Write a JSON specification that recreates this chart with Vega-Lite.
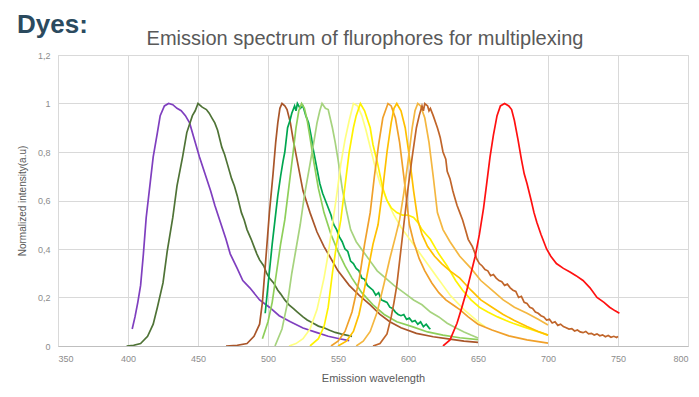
{
  "$schema": "https://vega.github.io/schema/vega-lite/v6.json",
  "background": "white",
  "padding": {"left": 16, "top": 11, "right": 5, "bottom": 5},
  "title": {"text": "Dyes:", "anchor": "start", "frame": "bounds", "fontSize": 26, "fontWeight": "bold", "font": "Liberation Sans", "color": "#2B4A5E", "offset": -9},
  "config": {
    "view": {"stroke": "#d9d9d9"},
    "axis": {"labelFont": "Liberation Sans", "titleFont": "Liberation Sans", "labelColor": "#8c8c8c", "titleColor": "#595959", "titleFontWeight": "normal", "gridColor": "#d9d9d9", "ticks": false, "labelFontSize": 9, "titleFontSize": 10}
  },
  "vconcat": [
    {
      "width": 630,
      "height": 291,
      "title": {"text": "Emission spectrum of flurophores for multiplexing", "font": "Liberation Sans", "fontSize": 20, "fontWeight": "normal", "color": "#595959", "anchor": "middle", "dx": -8, "offset": 2},
      "data": {"values": [
        {"s":"P","x":403,"y":0.07},{"s":"P","x":405,"y":0.12},{"s":"P","x":407,"y":0.18},{"s":"P","x":409,"y":0.25},{"s":"P","x":411,"y":0.38},{"s":"P","x":413,"y":0.53},{"s":"P","x":416,"y":0.68},{"s":"P","x":418,"y":0.78},{"s":"P","x":421,"y":0.88},{"s":"P","x":423,"y":0.95},{"s":"P","x":426,"y":0.99},{"s":"P","x":429,"y":1.0},{"s":"P","x":432,"y":0.995},{"s":"P","x":435,"y":0.98},{"s":"P","x":438,"y":0.97},{"s":"P","x":441,"y":0.95},{"s":"P","x":444,"y":0.92},{"s":"P","x":447,"y":0.86},{"s":"P","x":451,"y":0.78},{"s":"P","x":455,"y":0.71},{"s":"P","x":459,"y":0.64},{"s":"P","x":462,"y":0.58},{"s":"P","x":466,"y":0.51},{"s":"P","x":470,"y":0.44},{"s":"P","x":473,"y":0.38},{"s":"P","x":478,"y":0.32},{"s":"P","x":482,"y":0.27},{"s":"P","x":487,"y":0.24},{"s":"P","x":494,"y":0.19},{"s":"P","x":501,"y":0.16},{"s":"P","x":508,"y":0.125},{"s":"P","x":516,"y":0.1},{"s":"P","x":525,"y":0.074},{"s":"P","x":535,"y":0.055},{"s":"P","x":543,"y":0.04},{"s":"P","x":551,"y":0.03},{"s":"P","x":558,"y":0.022},
        {"s":"DG","x":399,"y":0.0},{"s":"DG","x":404,"y":0.003},{"s":"DG","x":409,"y":0.01},{"s":"DG","x":414,"y":0.04},{"s":"DG","x":418,"y":0.09},{"s":"DG","x":421,"y":0.16},{"s":"DG","x":425,"y":0.26},{"s":"DG","x":428,"y":0.39},{"s":"DG","x":432,"y":0.53},{"s":"DG","x":435,"y":0.66},{"s":"DG","x":439,"y":0.78},{"s":"DG","x":442,"y":0.88},{"s":"DG","x":446,"y":0.95},{"s":"DG","x":448,"y":0.97},{"s":"DG","x":450,"y":1.0},{"s":"DG","x":453,"y":0.985},{"s":"DG","x":456,"y":0.975},{"s":"DG","x":458,"y":0.96},{"s":"DG","x":460,"y":0.94},{"s":"DG","x":462,"y":0.92},{"s":"DG","x":464,"y":0.89},{"s":"DG","x":467,"y":0.82},{"s":"DG","x":469,"y":0.79},{"s":"DG","x":471,"y":0.75},{"s":"DG","x":474,"y":0.69},{"s":"DG","x":476,"y":0.66},{"s":"DG","x":478,"y":0.62},{"s":"DG","x":481,"y":0.55},{"s":"DG","x":483,"y":0.52},{"s":"DG","x":485,"y":0.48},{"s":"DG","x":488,"y":0.44},{"s":"DG","x":490,"y":0.41},{"s":"DG","x":492,"y":0.38},{"s":"DG","x":494,"y":0.355},{"s":"DG","x":497,"y":0.33},{"s":"DG","x":499,"y":0.3},{"s":"DG","x":501,"y":0.28},{"s":"DG","x":504,"y":0.26},{"s":"DG","x":507,"y":0.23},{"s":"DG","x":509,"y":0.215},{"s":"DG","x":512,"y":0.19},{"s":"DG","x":515,"y":0.17},{"s":"DG","x":518,"y":0.155},{"s":"DG","x":521,"y":0.14},{"s":"DG","x":525,"y":0.12},{"s":"DG","x":528,"y":0.107},{"s":"DG","x":532,"y":0.095},{"s":"DG","x":536,"y":0.082},{"s":"DG","x":540,"y":0.075},{"s":"DG","x":544,"y":0.065},{"s":"DG","x":548,"y":0.056},{"s":"DG","x":552,"y":0.05},{"s":"DG","x":556,"y":0.045},{"s":"DG","x":560,"y":0.04},
        {"s":"B1","x":470,"y":0},{"s":"B1","x":478,"y":0.003},{"s":"B1","x":485,"y":0.01},{"s":"B1","x":490,"y":0.04},{"s":"B1","x":494,"y":0.09},{"s":"B1","x":496,"y":0.18},{"s":"B1","x":498.6,"y":0.37},{"s":"B1","x":501,"y":0.55},{"s":"B1","x":503.6,"y":0.71},{"s":"B1","x":505.5,"y":0.84},{"s":"B1","x":507,"y":0.92},{"s":"B1","x":508.5,"y":0.98},{"s":"B1","x":510,"y":1.0},{"s":"B1","x":512,"y":0.99},{"s":"B1","x":513.6,"y":0.975},{"s":"B1","x":516,"y":0.92},{"s":"B1","x":518,"y":0.85},{"s":"B1","x":521,"y":0.76},{"s":"B1","x":525,"y":0.64},{"s":"B1","x":530,"y":0.55},{"s":"B1","x":535,"y":0.47},{"s":"B1","x":540,"y":0.41},{"s":"B1","x":544,"y":0.37},{"s":"B1","x":550,"y":0.31},{"s":"B1","x":558,"y":0.25},{"s":"B1","x":565,"y":0.21},{"s":"B1","x":573,"y":0.17},{"s":"B1","x":580,"y":0.13},{"s":"B1","x":587,"y":0.1},{"s":"B1","x":595,"y":0.075},{"s":"B1","x":606,"y":0.052},{"s":"B1","x":618,"y":0.038},{"s":"B1","x":630,"y":0.028},{"s":"B1","x":640,"y":0.02},{"s":"B1","x":650,"y":0.015},
        {"s":"G","x":498,"y":0.135},{"s":"G","x":500,"y":0.25},{"s":"G","x":503,"y":0.42},{"s":"G","x":505,"y":0.52},{"s":"G","x":507,"y":0.62},{"s":"G","x":509,"y":0.7},{"s":"G","x":510.7,"y":0.76},{"s":"G","x":512,"y":0.8},{"s":"G","x":514,"y":0.9},{"s":"G","x":515.7,"y":0.93},{"s":"G","x":517,"y":0.96},{"s":"G","x":519,"y":0.99},{"s":"G","x":520,"y":0.97},{"s":"G","x":521,"y":1.0},{"s":"G","x":523,"y":0.98},{"s":"G","x":525,"y":0.99},{"s":"G","x":527,"y":0.95},{"s":"G","x":529,"y":0.92},{"s":"G","x":531,"y":0.86},{"s":"G","x":532,"y":0.82},{"s":"G","x":534,"y":0.76},{"s":"G","x":536,"y":0.7},{"s":"G","x":537,"y":0.67},{"s":"G","x":539,"y":0.63},{"s":"G","x":541,"y":0.6},{"s":"G","x":543,"y":0.57},{"s":"G","x":545,"y":0.54},{"s":"G","x":547,"y":0.5},{"s":"G","x":549,"y":0.48},{"s":"G","x":551,"y":0.45},{"s":"G","x":553,"y":0.43},{"s":"G","x":555,"y":0.4},{"s":"G","x":557,"y":0.39},{"s":"G","x":559,"y":0.35},{"s":"G","x":561,"y":0.34},{"s":"G","x":563,"y":0.32},{"s":"G","x":565,"y":0.31},{"s":"G","x":567,"y":0.28},{"s":"G","x":569,"y":0.275},{"s":"G","x":571,"y":0.25},{"s":"G","x":573,"y":0.24},{"s":"G","x":575,"y":0.23},{"s":"G","x":577,"y":0.21},{"s":"G","x":579,"y":0.22},{"s":"G","x":581,"y":0.19},{"s":"G","x":583,"y":0.185},{"s":"G","x":585,"y":0.18},{"s":"G","x":587,"y":0.16},{"s":"G","x":589,"y":0.155},{"s":"G","x":591,"y":0.14},{"s":"G","x":593,"y":0.13},{"s":"G","x":595,"y":0.125},{"s":"G","x":597,"y":0.13},{"s":"G","x":599,"y":0.11},{"s":"G","x":601,"y":0.115},{"s":"G","x":603,"y":0.1},{"s":"G","x":605,"y":0.105},{"s":"G","x":607,"y":0.09},{"s":"G","x":609,"y":0.1},{"s":"G","x":611,"y":0.08},{"s":"G","x":613,"y":0.09},{"s":"G","x":615,"y":0.075},{"s":"G","x":616,"y":0.07},
        {"s":"LG1","x":496,"y":0.03},{"s":"LG1","x":500,"y":0.1},{"s":"LG1","x":503,"y":0.18},{"s":"LG1","x":506,"y":0.3},{"s":"LG1","x":509,"y":0.42},{"s":"LG1","x":512,"y":0.52},{"s":"LG1","x":515,"y":0.66},{"s":"LG1","x":518,"y":0.8},{"s":"LG1","x":520,"y":0.9},{"s":"LG1","x":522,"y":0.97},{"s":"LG1","x":524,"y":1.0},{"s":"LG1","x":526,"y":0.98},{"s":"LG1","x":528,"y":0.93},{"s":"LG1","x":530,"y":0.86},{"s":"LG1","x":533,"y":0.75},{"s":"LG1","x":536,"y":0.65},{"s":"LG1","x":540,"y":0.55},{"s":"LG1","x":545,"y":0.46},{"s":"LG1","x":550,"y":0.39},{"s":"LG1","x":555,"y":0.33},{"s":"LG1","x":560,"y":0.28},{"s":"LG1","x":567,"y":0.22},{"s":"LG1","x":575,"y":0.17},{"s":"LG1","x":583,"y":0.13},{"s":"LG1","x":592,"y":0.1},{"s":"LG1","x":603,"y":0.08},{"s":"LG1","x":614,"y":0.058},{"s":"LG1","x":625,"y":0.045},{"s":"LG1","x":637,"y":0.034},{"s":"LG1","x":650,"y":0.026},
        {"s":"LG2","x":505,"y":0},{"s":"LG2","x":510,"y":0.07},{"s":"LG2","x":514,"y":0.18},{"s":"LG2","x":517,"y":0.3},{"s":"LG2","x":520,"y":0.4},{"s":"LG2","x":523,"y":0.5},{"s":"LG2","x":526,"y":0.62},{"s":"LG2","x":530,"y":0.75},{"s":"LG2","x":533,"y":0.85},{"s":"LG2","x":535,"y":0.92},{"s":"LG2","x":537,"y":0.97},{"s":"LG2","x":538.6,"y":1.0},{"s":"LG2","x":541,"y":0.98},{"s":"LG2","x":543,"y":0.975},{"s":"LG2","x":546,"y":0.9},{"s":"LG2","x":548,"y":0.84},{"s":"LG2","x":550,"y":0.77},{"s":"LG2","x":553,"y":0.65},{"s":"LG2","x":556,"y":0.56},{"s":"LG2","x":559,"y":0.48},{"s":"LG2","x":563,"y":0.43},{"s":"LG2","x":568,"y":0.39},{"s":"LG2","x":573,"y":0.35},{"s":"LG2","x":578,"y":0.31},{"s":"LG2","x":584,"y":0.28},{"s":"LG2","x":590,"y":0.25},{"s":"LG2","x":597,"y":0.22},{"s":"LG2","x":604,"y":0.19},{"s":"LG2","x":610,"y":0.17},{"s":"LG2","x":616,"y":0.14},{"s":"LG2","x":622,"y":0.12},{"s":"LG2","x":628,"y":0.094},{"s":"LG2","x":634,"y":0.075},{"s":"LG2","x":640,"y":0.058},{"s":"LG2","x":645,"y":0.045},{"s":"LG2","x":650,"y":0.033},
        {"s":"PY","x":515,"y":0},{"s":"PY","x":520,"y":0.01},{"s":"PY","x":525,"y":0.03},{"s":"PY","x":530,"y":0.07},{"s":"PY","x":535,"y":0.15},{"s":"PY","x":540,"y":0.28},{"s":"PY","x":543,"y":0.38},{"s":"PY","x":546,"y":0.5},{"s":"PY","x":549,"y":0.62},{"s":"PY","x":552,"y":0.75},{"s":"PY","x":555,"y":0.85},{"s":"PY","x":558,"y":0.93},{"s":"PY","x":561,"y":1.0},{"s":"PY","x":564,"y":0.99},{"s":"PY","x":567,"y":0.95},{"s":"PY","x":570,"y":0.89},{"s":"PY","x":573,"y":0.82},{"s":"PY","x":576,"y":0.75},{"s":"PY","x":580,"y":0.67},{"s":"PY","x":585,"y":0.6},{"s":"PY","x":590,"y":0.54},{"s":"PY","x":595,"y":0.49},{"s":"PY","x":600,"y":0.45},{"s":"PY","x":605,"y":0.41},{"s":"PY","x":610,"y":0.37},{"s":"PY","x":615,"y":0.33},{"s":"PY","x":620,"y":0.29},{"s":"PY","x":625,"y":0.25},{"s":"PY","x":630,"y":0.21},{"s":"PY","x":635,"y":0.18},{"s":"PY","x":640,"y":0.15},{"s":"PY","x":645,"y":0.125},{"s":"PY","x":650,"y":0.1},{"s":"PY","x":655,"y":0.08},
        {"s":"Y","x":530,"y":0},{"s":"Y","x":536,"y":0.03},{"s":"Y","x":540,"y":0.08},{"s":"Y","x":543,"y":0.16},{"s":"Y","x":546,"y":0.3},{"s":"Y","x":549,"y":0.42},{"s":"Y","x":552,"y":0.52},{"s":"Y","x":555,"y":0.66},{"s":"Y","x":558,"y":0.8},{"s":"Y","x":561,"y":0.9},{"s":"Y","x":563,"y":0.95},{"s":"Y","x":566,"y":1.0},{"s":"Y","x":569,"y":0.97},{"s":"Y","x":573,"y":0.9},{"s":"Y","x":575,"y":0.83},{"s":"Y","x":578,"y":0.76},{"s":"Y","x":582,"y":0.65},{"s":"Y","x":585,"y":0.6},{"s":"Y","x":588,"y":0.57},{"s":"Y","x":592,"y":0.55},{"s":"Y","x":596,"y":0.54},{"s":"Y","x":600,"y":0.54},{"s":"Y","x":604,"y":0.53},{"s":"Y","x":607,"y":0.51},{"s":"Y","x":610,"y":0.48},{"s":"Y","x":613,"y":0.46},{"s":"Y","x":616,"y":0.44},{"s":"Y","x":622,"y":0.38},{"s":"Y","x":628,"y":0.33},{"s":"Y","x":634,"y":0.27},{"s":"Y","x":639,"y":0.23},{"s":"Y","x":645,"y":0.19},{"s":"Y","x":651,"y":0.16},{"s":"Y","x":657,"y":0.14},{"s":"Y","x":664,"y":0.12},{"s":"Y","x":670,"y":0.105},{"s":"Y","x":675,"y":0.094},{"s":"Y","x":682,"y":0.08},{"s":"Y","x":689,"y":0.066},{"s":"Y","x":695,"y":0.055},{"s":"Y","x":700,"y":0.045},
        {"s":"O1","x":545,"y":0},{"s":"O1","x":550,"y":0.02},{"s":"O1","x":555,"y":0.06},{"s":"O1","x":560,"y":0.14},{"s":"O1","x":565,"y":0.27},{"s":"O1","x":569,"y":0.42},{"s":"O1","x":573,"y":0.55},{"s":"O1","x":576,"y":0.7},{"s":"O1","x":579,"y":0.83},{"s":"O1","x":582,"y":0.94},{"s":"O1","x":585.7,"y":1.0},{"s":"O1","x":588,"y":0.99},{"s":"O1","x":591,"y":0.94},{"s":"O1","x":594,"y":0.84},{"s":"O1","x":597,"y":0.7},{"s":"O1","x":599,"y":0.6},{"s":"O1","x":601,"y":0.5},{"s":"O1","x":604,"y":0.43},{"s":"O1","x":608,"y":0.36},{"s":"O1","x":612,"y":0.31},{"s":"O1","x":617,"y":0.26},{"s":"O1","x":622,"y":0.22},{"s":"O1","x":627,"y":0.19},{"s":"O1","x":632,"y":0.17},{"s":"O1","x":637,"y":0.15},{"s":"O1","x":643,"y":0.12},{"s":"O1","x":650,"y":0.09},{"s":"O1","x":660,"y":0.066},{"s":"O1","x":672,"y":0.042},{"s":"O1","x":685,"y":0.025},{"s":"O1","x":700,"y":0.012},
        {"s":"O2","x":550,"y":0},{"s":"O2","x":556,"y":0.02},{"s":"O2","x":561,"y":0.06},{"s":"O2","x":565,"y":0.13},{"s":"O2","x":569,"y":0.24},{"s":"O2","x":572,"y":0.33},{"s":"O2","x":575,"y":0.42},{"s":"O2","x":578.6,"y":0.5},{"s":"O2","x":582,"y":0.65},{"s":"O2","x":585,"y":0.8},{"s":"O2","x":588,"y":0.92},{"s":"O2","x":590,"y":0.98},{"s":"O2","x":592,"y":1.0},{"s":"O2","x":595,"y":0.97},{"s":"O2","x":598,"y":0.9},{"s":"O2","x":601,"y":0.78},{"s":"O2","x":604,"y":0.64},{"s":"O2","x":607,"y":0.52},{"s":"O2","x":610,"y":0.46},{"s":"O2","x":614,"y":0.41},{"s":"O2","x":619,"y":0.37},{"s":"O2","x":624,"y":0.34},{"s":"O2","x":630,"y":0.31},{"s":"O2","x":637,"y":0.28},{"s":"O2","x":645,"y":0.23},{"s":"O2","x":652,"y":0.19},{"s":"O2","x":660,"y":0.16},{"s":"O2","x":668,"y":0.13},{"s":"O2","x":676,"y":0.105},{"s":"O2","x":685,"y":0.08},{"s":"O2","x":693,"y":0.06},{"s":"O2","x":700,"y":0.045},
        {"s":"O3","x":563,"y":0},{"s":"O3","x":568,"y":0.02},{"s":"O3","x":573,"y":0.06},{"s":"O3","x":578,"y":0.14},{"s":"O3","x":583,"y":0.26},{"s":"O3","x":587,"y":0.36},{"s":"O3","x":591,"y":0.45},{"s":"O3","x":594,"y":0.52},{"s":"O3","x":597,"y":0.63},{"s":"O3","x":600,"y":0.76},{"s":"O3","x":603,"y":0.9},{"s":"O3","x":605,"y":0.97},{"s":"O3","x":607,"y":1.0},{"s":"O3","x":609,"y":0.99},{"s":"O3","x":612,"y":0.94},{"s":"O3","x":615,"y":0.84},{"s":"O3","x":618,"y":0.7},{"s":"O3","x":621,"y":0.55},{"s":"O3","x":625,"y":0.48},{"s":"O3","x":630,"y":0.43},{"s":"O3","x":637,"y":0.37},{"s":"O3","x":645,"y":0.32},{"s":"O3","x":652,"y":0.27},{"s":"O3","x":660,"y":0.23},{"s":"O3","x":668,"y":0.19},{"s":"O3","x":676,"y":0.16},{"s":"O3","x":685,"y":0.135},{"s":"O3","x":693,"y":0.11},{"s":"O3","x":700,"y":0.087},
        {"s":"B2","x":575,"y":0},{"s":"B2","x":580,"y":0.01},{"s":"B2","x":585,"y":0.05},{"s":"B2","x":588,"y":0.12},{"s":"B2","x":590,"y":0.18},{"s":"B2","x":592,"y":0.25},{"s":"B2","x":595,"y":0.4},{"s":"B2","x":597,"y":0.5},{"s":"B2","x":600,"y":0.65},{"s":"B2","x":603,"y":0.78},{"s":"B2","x":606,"y":0.9},{"s":"B2","x":608,"y":0.95},{"s":"B2","x":610,"y":0.99},{"s":"B2","x":611,"y":0.97},{"s":"B2","x":612,"y":1.0},{"s":"B2","x":614,"y":0.99},{"s":"B2","x":615,"y":0.97},{"s":"B2","x":616,"y":0.98},{"s":"B2","x":618,"y":0.95},{"s":"B2","x":621,"y":0.9},{"s":"B2","x":622,"y":0.88},{"s":"B2","x":623,"y":0.86},{"s":"B2","x":625,"y":0.8},{"s":"B2","x":627,"y":0.77},{"s":"B2","x":628,"y":0.72},{"s":"B2","x":630,"y":0.69},{"s":"B2","x":632,"y":0.64},{"s":"B2","x":633,"y":0.62},{"s":"B2","x":635,"y":0.58},{"s":"B2","x":637,"y":0.55},{"s":"B2","x":639,"y":0.52},{"s":"B2","x":641,"y":0.48},{"s":"B2","x":643,"y":0.44},{"s":"B2","x":646,"y":0.41},{"s":"B2","x":648,"y":0.38},{"s":"B2","x":649,"y":0.36},{"s":"B2","x":651,"y":0.34},{"s":"B2","x":653,"y":0.33},{"s":"B2","x":655,"y":0.315},{"s":"B2","x":657,"y":0.31},{"s":"B2","x":659,"y":0.29},{"s":"B2","x":661,"y":0.295},{"s":"B2","x":663,"y":0.28},{"s":"B2","x":665,"y":0.27},{"s":"B2","x":667,"y":0.265},{"s":"B2","x":669,"y":0.25},{"s":"B2","x":671,"y":0.255},{"s":"B2","x":673,"y":0.24},{"s":"B2","x":675,"y":0.23},{"s":"B2","x":677,"y":0.225},{"s":"B2","x":679,"y":0.2},{"s":"B2","x":681,"y":0.205},{"s":"B2","x":683,"y":0.18},{"s":"B2","x":685,"y":0.175},{"s":"B2","x":687,"y":0.16},{"s":"B2","x":689,"y":0.155},{"s":"B2","x":691,"y":0.14},{"s":"B2","x":693,"y":0.135},{"s":"B2","x":695,"y":0.125},{"s":"B2","x":697,"y":0.12},{"s":"B2","x":699,"y":0.107},{"s":"B2","x":701,"y":0.11},{"s":"B2","x":703,"y":0.095},{"s":"B2","x":705,"y":0.1},{"s":"B2","x":707,"y":0.085},{"s":"B2","x":709,"y":0.09},{"s":"B2","x":711,"y":0.08},{"s":"B2","x":713,"y":0.075},{"s":"B2","x":715,"y":0.07},{"s":"B2","x":717,"y":0.072},{"s":"B2","x":719,"y":0.062},{"s":"B2","x":721,"y":0.066},{"s":"B2","x":723,"y":0.058},{"s":"B2","x":725,"y":0.055},{"s":"B2","x":727,"y":0.06},{"s":"B2","x":729,"y":0.05},{"s":"B2","x":731,"y":0.052},{"s":"B2","x":733,"y":0.045},{"s":"B2","x":735,"y":0.05},{"s":"B2","x":737,"y":0.042},{"s":"B2","x":739,"y":0.046},{"s":"B2","x":741,"y":0.038},{"s":"B2","x":743,"y":0.043},{"s":"B2","x":745,"y":0.036},{"s":"B2","x":747,"y":0.04},{"s":"B2","x":749,"y":0.035},{"s":"B2","x":750,"y":0.04},
        {"s":"R","x":625,"y":0.0},{"s":"R","x":630,"y":0.025},{"s":"R","x":635,"y":0.094},{"s":"R","x":638,"y":0.15},{"s":"R","x":642,"y":0.23},{"s":"R","x":645,"y":0.3},{"s":"R","x":648,"y":0.37},{"s":"R","x":651,"y":0.46},{"s":"R","x":654,"y":0.57},{"s":"R","x":656,"y":0.66},{"s":"R","x":658.6,"y":0.78},{"s":"R","x":661,"y":0.87},{"s":"R","x":663.6,"y":0.95},{"s":"R","x":666,"y":0.99},{"s":"R","x":669,"y":1.0},{"s":"R","x":672,"y":0.99},{"s":"R","x":674,"y":0.975},{"s":"R","x":676,"y":0.93},{"s":"R","x":678.6,"y":0.85},{"s":"R","x":681,"y":0.77},{"s":"R","x":683,"y":0.71},{"s":"R","x":685,"y":0.67},{"s":"R","x":688,"y":0.6},{"s":"R","x":690,"y":0.55},{"s":"R","x":692,"y":0.51},{"s":"R","x":695,"y":0.46},{"s":"R","x":697,"y":0.43},{"s":"R","x":699,"y":0.4},{"s":"R","x":702,"y":0.37},{"s":"R","x":706,"y":0.34},{"s":"R","x":711,"y":0.32},{"s":"R","x":715.7,"y":0.305},{"s":"R","x":720,"y":0.29},{"s":"R","x":725,"y":0.27},{"s":"R","x":730,"y":0.24},{"s":"R","x":735,"y":0.2},{"s":"R","x":740,"y":0.18},{"s":"R","x":744,"y":0.16},{"s":"R","x":748,"y":0.145},{"s":"R","x":751,"y":0.135}
      ]},
      "mark": {"type": "line", "strokeWidth": 1.7, "clip": true},
      "encoding": {
        "x": {"field": "x", "type": "quantitative", "scale": {"domain": [350, 800], "nice": false, "zero": false},
              "axis": {"title": "Emission wavelength", "values": [350,400,450,500,550,600,650,700,750,800], "labelPadding": 8, "titlePadding": 9, "domainColor": "#bfbfbf", "labelFontSize": 9, "titleFontSize": 11}},
        "y": {"field": "y", "type": "quantitative", "scale": {"domain": [0, 1.2], "nice": false},
              "axis": {"title": "Normalized intensity(a.u)", "values": [0,0.2,0.4,0.6,0.8,1,1.2], "labelExpr": "replace(format(datum.value, '.1~f'), '.', ',')", "domain": false, "labelPadding": 8, "titlePadding": 10}},
        "color": {"field": "s", "type": "nominal", "legend": null,
                  "scale": {"domain": ["P","DG","B1","G","LG1","LG2","PY","Y","O1","O2","O3","B2","R"],
                            "range": ["#7F3FBF","#4F7336","#A9562A","#00A650","#8ECF5A","#A6D37E","#FFFF80","#FFF200","#F0A02A","#FFC000","#F4B740","#C0652A","#FF1010"]}}
      }
    }
  ]
}
